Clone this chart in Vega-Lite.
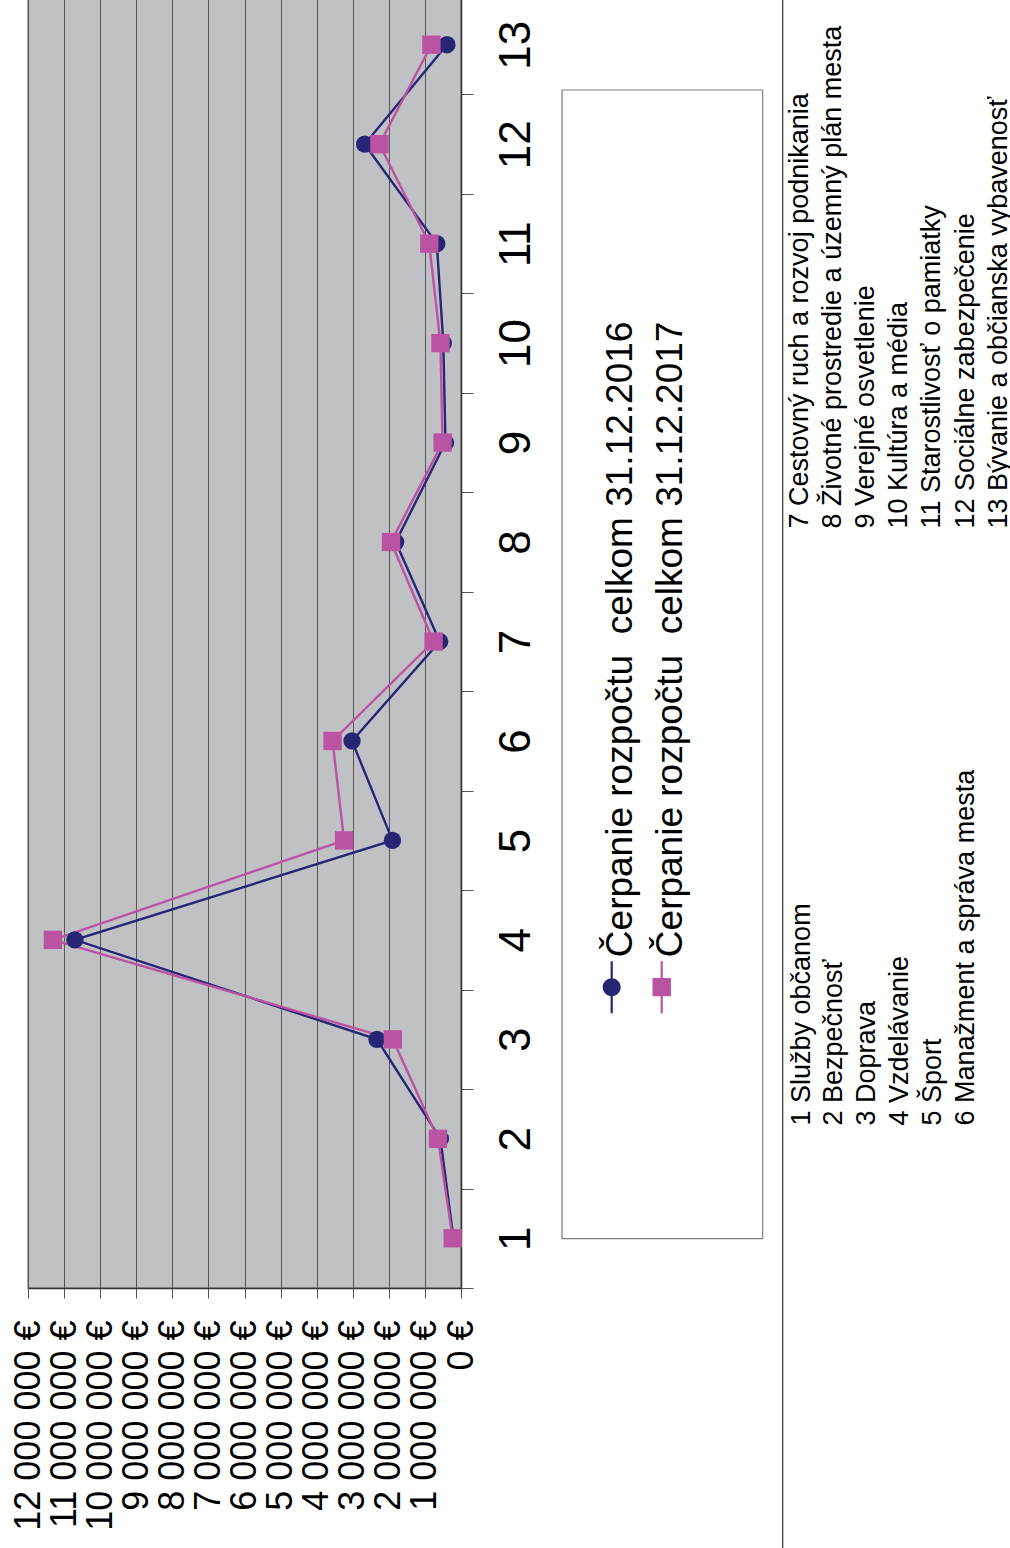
{
  "$schema": "https://vega.github.io/schema/vega-lite/v6.json",
  "width": 433,
  "height": 1293,
  "autosize": {"type": "none"},
  "padding": {"left": 28, "top": -5, "right": 549, "bottom": 260},
  "background": "#ffffff",
  "config": {
    "view": {"fill": "#c0c1c5", "stroke": "#8c8c8c", "strokeWidth": 1.5},
    "font": "Liberation Sans"
  },
  "data": {
    "values": [
      {"kategoria": 1, "seria": "Čerpanie rozpočtu\u00a0 celkom 31.12.2016", "hodnota": 210000},
      {"kategoria": 2, "seria": "Čerpanie rozpočtu\u00a0 celkom 31.12.2016", "hodnota": 570000},
      {"kategoria": 3, "seria": "Čerpanie rozpočtu\u00a0 celkom 31.12.2016", "hodnota": 2330000},
      {"kategoria": 4, "seria": "Čerpanie rozpočtu\u00a0 celkom 31.12.2016", "hodnota": 10700000},
      {"kategoria": 5, "seria": "Čerpanie rozpočtu\u00a0 celkom 31.12.2016", "hodnota": 1900000},
      {"kategoria": 6, "seria": "Čerpanie rozpočtu\u00a0 celkom 31.12.2016", "hodnota": 3020000},
      {"kategoria": 7, "seria": "Čerpanie rozpočtu\u00a0 celkom 31.12.2016", "hodnota": 590000},
      {"kategoria": 8, "seria": "Čerpanie rozpočtu\u00a0 celkom 31.12.2016", "hodnota": 1810000},
      {"kategoria": 9, "seria": "Čerpanie rozpočtu\u00a0 celkom 31.12.2016", "hodnota": 430000},
      {"kategoria": 10, "seria": "Čerpanie rozpočtu\u00a0 celkom 31.12.2016", "hodnota": 490000},
      {"kategoria": 11, "seria": "Čerpanie rozpočtu\u00a0 celkom 31.12.2016", "hodnota": 670000},
      {"kategoria": 12, "seria": "Čerpanie rozpočtu\u00a0 celkom 31.12.2016", "hodnota": 2670000},
      {"kategoria": 13, "seria": "Čerpanie rozpočtu\u00a0 celkom 31.12.2016", "hodnota": 390000},
      {"kategoria": 1, "seria": "Čerpanie rozpočtu\u00a0 celkom 31.12.2017", "hodnota": 230000},
      {"kategoria": 2, "seria": "Čerpanie rozpočtu\u00a0 celkom 31.12.2017", "hodnota": 640000},
      {"kategoria": 3, "seria": "Čerpanie rozpočtu\u00a0 celkom 31.12.2017", "hodnota": 1890000},
      {"kategoria": 4, "seria": "Čerpanie rozpočtu\u00a0 celkom 31.12.2017", "hodnota": 11310000},
      {"kategoria": 5, "seria": "Čerpanie rozpočtu\u00a0 celkom 31.12.2017", "hodnota": 3240000},
      {"kategoria": 6, "seria": "Čerpanie rozpočtu\u00a0 celkom 31.12.2017", "hodnota": 3560000},
      {"kategoria": 7, "seria": "Čerpanie rozpočtu\u00a0 celkom 31.12.2017", "hodnota": 760000},
      {"kategoria": 8, "seria": "Čerpanie rozpočtu\u00a0 celkom 31.12.2017", "hodnota": 1940000},
      {"kategoria": 9, "seria": "Čerpanie rozpočtu\u00a0 celkom 31.12.2017", "hodnota": 510000},
      {"kategoria": 10, "seria": "Čerpanie rozpočtu\u00a0 celkom 31.12.2017", "hodnota": 570000},
      {"kategoria": 11, "seria": "Čerpanie rozpočtu\u00a0 celkom 31.12.2017", "hodnota": 880000},
      {"kategoria": 12, "seria": "Čerpanie rozpočtu\u00a0 celkom 31.12.2017", "hodnota": 2260000},
      {"kategoria": 13, "seria": "Čerpanie rozpočtu\u00a0 celkom 31.12.2017", "hodnota": 820000}
    ]
  },
  "layer": [
    {
      "data": {"values": [{}]},
      "mark": {"type": "rect", "fill": "#ffffff", "stroke": "#7f7f7f", "strokeWidth": 1.2},
      "encoding": {
        "x": {"datum": -2799000, "type": "quantitative"},
        "x2": {"datum": -8361000},
        "y": {"datum": 12.545, "type": "quantitative"},
        "y2": {"datum": 0.996}
      }
    },
    {
      "data": {"values": [{}]},
      "mark": {"type": "rule", "color": "#333333", "strokeWidth": 1.2},
      "encoding": {
        "x": {"datum": -8915000, "type": "quantitative"},
        "y": {"datum": 13.7, "type": "quantitative"},
        "y2": {"datum": -2.3}
      }
    },
    {
      "mark": {"type": "line", "strokeWidth": 2.4},
      "encoding": {
        "x": {
          "field": "hodnota",
          "type": "quantitative",
          "scale": {"domain": [0, 12000000], "reverse": true, "nice": false, "zero": false},
          "axis": {
            "orient": "bottom",
            "values": [0, 1000000, 2000000, 3000000, 4000000, 5000000, 6000000, 7000000, 8000000, 9000000, 10000000, 11000000, 12000000],
            "tickCount": 30,
            "grid": true,
            "gridColor": "#555555",
            "gridWidth": 1,
            "domainColor": "#333333",
            "domainWidth": 1.5,
            "tickColor": "#555555",
            "tickSize": 10,
            "tickWidth": 1,
            "labelAngle": -90,
            "labelAlign": "right",
            "labelBaseline": "middle",
            "labelPadding": 22,
            "labelFontSize": 36,
            "labelFont": "Liberation Sans",
            "labelColor": "#000000",
            "labelLimit": 0,
            "labelFlush": false,
            "labelOverlap": false,
            "labelExpr": "replace(format(datum.value, ','), regexp(',', 'g'), ' ') + ' €'",
            "title": [
              "\u00a0\u00a07 Cestovný ruch a rozvoj podnikania",
              "\u00a0\u00a08 Životné prostredie a územný plán mesta",
              "\u00a0\u00a09 Verejné osvetlenie",
              "10 Kultúra a média",
              "11 Starostlivosť o pamiatky",
              "12 Sociálne zabezpečenie",
              "13 Bývanie a občianska vybavenosť"
            ],
            "titleAngle": -90,
            "titleX": 758,
            "titleY": -760,
            "titleAlign": "left",
            "titleBaseline": "top",
            "titleFont": "Liberation Sans",
            "titleFontSize": 27,
            "titleFontWeight": "normal",
            "titleColor": "#000000",
            "titleLineHeight": 33.2,
            "titleLimit": 0
          }
        },
        "y": {
          "field": "kategoria",
          "type": "quantitative",
          "scale": {"domain": [0.5, 13.5], "nice": false, "zero": false},
          "axis": {
            "orient": "right",
            "values": [1, 2, 3, 4, 5, 6, 7, 8, 9, 10, 11, 12, 13],
            "tickCount": 30,
            "format": "d",
            "tickOffset": 49.73,
            "labelOffset": -49.73,
            "tickSize": 12,
            "tickColor": "#555555",
            "tickWidth": 1,
            "domainColor": "#333333",
            "domainWidth": 1.5,
            "grid": false,
            "labelAngle": -90,
            "labelAlign": "center",
            "labelBaseline": "top",
            "labelPadding": 21,
            "labelFontSize": 44,
            "labelFont": "Liberation Sans",
            "labelColor": "#000000",
            "labelFlush": false,
            "labelOverlap": false,
            "title": [
              "1 Služby občanom",
              "2 Bezpečnosť",
              "3 Doprava",
              "4 Vzdelávanie",
              "5 Šport",
              "6 Manažment a správa mesta"
            ],
            "titleAngle": -90,
            "titleX": 327,
            "titleY": 1130,
            "titleAlign": "left",
            "titleBaseline": "top",
            "titleFont": "Liberation Sans",
            "titleFontSize": 27,
            "titleFontWeight": "normal",
            "titleColor": "#000000",
            "titleLineHeight": 32.8,
            "titleLimit": 0
          }
        },
        "color": {
          "field": "seria",
          "type": "nominal",
          "scale": {
            "domain": ["Čerpanie rozpočtu\u00a0 celkom 31.12.2016", "Čerpanie rozpočtu\u00a0 celkom 31.12.2017"],
            "range": ["#262675", "#bb53a3"]
          }
        },
        "order": {"field": "kategoria", "type": "quantitative"}
      }
    },
    {
      "transform": [{"filter": {"field": "seria", "equal": "Čerpanie rozpočtu\u00a0 celkom 31.12.2016"}}],
      "mark": {"type": "point", "shape": "circle", "filled": true, "opacity": 1, "size": 300, "strokeWidth": 0},
      "encoding": {
        "x": {"field": "hodnota", "type": "quantitative"},
        "y": {"field": "kategoria", "type": "quantitative"},
        "color": {"field": "seria", "type": "nominal"}
      }
    },
    {
      "transform": [{"filter": {"field": "seria", "equal": "Čerpanie rozpočtu\u00a0 celkom 31.12.2017"}}],
      "mark": {"type": "point", "shape": "M-1.06,-1.06H1.06V1.06H-1.06Z", "filled": true, "opacity": 1, "size": 300, "strokeWidth": 0},
      "encoding": {
        "x": {"field": "hodnota", "type": "quantitative"},
        "y": {"field": "kategoria", "type": "quantitative"},
        "color": {"field": "seria", "type": "nominal"}
      }
    },
    {
      "transform": [{"filter": "false"}],
      "mark": {"type": "point", "filled": true, "opacity": 1, "strokeWidth": 0},
      "encoding": {
        "x": {"field": "hodnota", "type": "quantitative"},
        "y": {"field": "kategoria", "type": "quantitative"},
        "color": {"field": "seria", "type": "nominal"},
        "shape": {
          "field": "seria",
          "type": "nominal",
          "scale": {
            "domain": ["Čerpanie rozpočtu\u00a0 celkom 31.12.2016", "Čerpanie rozpočtu\u00a0 celkom 31.12.2017"],
            "range": [
              "M0,0.2574M-0.00127,-0.0299H0.00127V0.0299H-0.00127ZM-0.01036,0A0.01036,0.01036,0,1,1,0.01036,0A0.01036,0.01036,0,1,1,-0.01036,0Z",
              "M0,0.2574M-0.00127,-0.0299H0.00127V0.0299H-0.00127ZM-0.01059,-0.01059H0.01059V0.01059H-0.01059Z"
            ]
          },
          "legend": {
            "orient": "none",
            "legendX": 534,
            "legendY": 95,
            "direction": "horizontal",
            "columns": 2,
            "title": null,
            "padding": 28,
            "symbolSize": 3020644,
            "symbolStrokeWidth": 0,
            "symbolOffset": -847.3,
            "labelOffset": -859.6,
            "columnPadding": -780,
            "labelFontSize": 37,
            "labelFont": "Liberation Sans",
            "labelColor": "#000000",
            "labelLimit": 0,
            "labelAlign": "left",
            "labelBaseline": "middle",
            "encoding": {
              "symbols": {
                "fill": {"value": {"expr": "datum.index === 0 ? '#262675' : '#bb53a3'"}},
                "fillOpacity": {"value": 1},
                "opacity": {"value": 1}
              },
              "labels": {
                "angle": {"value": -90},
                "dx": {"value": 30}
              }
            }
          }
        }
      }
    }
  ]
}
